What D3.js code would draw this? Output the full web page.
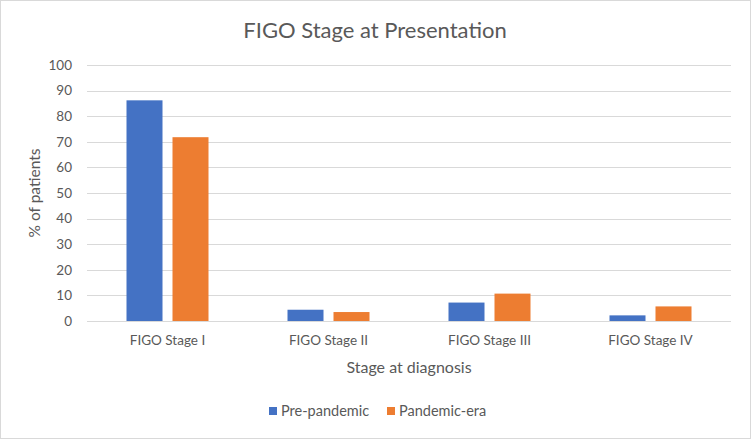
<!DOCTYPE html>
<html>
<head>
<meta charset="utf-8">
<script src="https://cdn.jsdelivr.net/npm/d3@7"></script>
<style>
  html, body { margin: 0; padding: 0; background: #fff; }
  svg { display: block; font-family: Lato, 'Open Sans', sans-serif; }
</style>
</head>
<body>
<svg id="chart"></svg>
<script>
const categories = ['FIGO Stage I', 'FIGO Stage II', 'FIGO Stage III', 'FIGO Stage IV'];
const seriesNames = ['Pre-pandemic', 'Pandemic-era'];
const prePandemic = [86.2, 4.4, 7.2, 2.2];
const pandemicEra = [71.8, 3.5, 10.7, 5.7];
const yTicks = [0, 10, 20, 30, 40, 50, 60, 70, 80, 90, 100];
const colors = ['#4472C4', '#ED7D31'];

const state = {
  width: 751,
  height: 439,
  margin: { top: 65, right: 20, bottom: 118, left: 87 },
};
state.graphW = state.width - state.margin.left - state.margin.right;
state.graphH = state.height - state.margin.top - state.margin.bottom;

const rows = categories.map((c, i) => ({
  category: c,
  values: [prePandemic[i], pandemicEra[i]],
}));

const svg = d3.select('#chart')
  .attr('width', state.width)
  .attr('height', state.height);

// outer border
svg.append('rect')
  .attr('x', 0.5).attr('y', 0.5)
  .attr('width', state.width - 1).attr('height', state.height - 1)
  .attr('fill', '#fff')
  .attr('stroke', '#d9d9d9');

const xScale = d3.scaleBand().domain(categories).range([0, state.graphW]);
const yScale = d3.scaleLinear().domain([0, 100]).range([state.graphH, 0]);
const barW = 36;
const barGap = 10;

const g = svg.append('g')
  .attr('transform', `translate(${state.margin.left},${state.margin.top})`);

// gridlines
g.append('g')
  .selectAll('line')
  .data(yTicks)
  .enter()
  .append('line')
  .attr('x1', 0)
  .attr('x2', state.graphW)
  .attr('y1', d => Math.round(yScale(d)) + 0.5)
  .attr('y2', d => Math.round(yScale(d)) + 0.5)
  .attr('stroke', '#d9d9d9')
  .attr('stroke-width', 1);

// bars
const groups = g.append('g')
  .selectAll('.group')
  .data(rows)
  .enter()
  .append('g')
  .attr('class', 'group')
  .attr('transform', d => `translate(${xScale(d.category) + xScale.bandwidth() / 2},0)`);

groups.selectAll('rect')
  .data(d => d.values)
  .enter()
  .append('rect')
  .attr('x', (d, i) => (i === 0 ? -barGap / 2 - barW : barGap / 2))
  .attr('width', barW)
  .attr('y', d => yScale(d))
  .attr('height', d => state.graphH - yScale(d))
  .attr('fill', (d, i) => colors[i]);

// y axis
const yAxis = g.append('g')
  .call(d3.axisLeft(yScale).tickValues(yTicks).tickSize(0).tickPadding(15));
yAxis.select('.domain').remove();
yAxis.selectAll('text')
  .attr('fill', '#595959')
  .style('font-size', '13.5px')
  .style('font-family', 'Lato, sans-serif');

// x axis
const xAxis = g.append('g')
  .attr('transform', `translate(0,${state.graphH})`)
  .call(d3.axisBottom(xScale).tickSize(0).tickPadding(14));
xAxis.select('.domain').remove();
xAxis.selectAll('text')
  .attr('fill', '#595959')
  .style('font-size', '13.5px')
  .style('font-family', 'Lato, sans-serif');

// title
svg.append('text')
  .attr('x', 375)
  .attr('y', 38)
  .attr('text-anchor', 'middle')
  .attr('fill', '#595959')
  .style('font-size', '22px')
  .text('FIGO Stage at Presentation');

// axis titles
svg.append('text')
  .attr('transform', `translate(40,${state.margin.top + state.graphH / 2}) rotate(-90)`)
  .attr('text-anchor', 'middle')
  .attr('fill', '#595959')
  .style('font-size', '15.5px')
  .text('% of patients');

svg.append('text')
  .attr('x', state.margin.left + state.graphW / 2)
  .attr('y', 373)
  .attr('text-anchor', 'middle')
  .attr('fill', '#595959')
  .style('font-size', '16px')
  .text('Stage at diagnosis');

// legend
const legend = svg.append('g').attr('transform', 'translate(269,416)');
const legendItems = legend.selectAll('g')
  .data(seriesNames)
  .enter()
  .append('g')
  .attr('transform', (d, i) => `translate(${i === 0 ? 0 : 118},0)`);
legendItems.append('rect')
  .attr('x', 0).attr('y', -9)
  .attr('width', 8).attr('height', 8)
  .attr('fill', (d, i) => colors[i]);
legendItems.append('text')
  .attr('x', 12)
  .attr('y', 0)
  .attr('fill', '#595959')
  .style('font-size', '14.5px')
  .text(d => d);
</script>
</body>
</html>
